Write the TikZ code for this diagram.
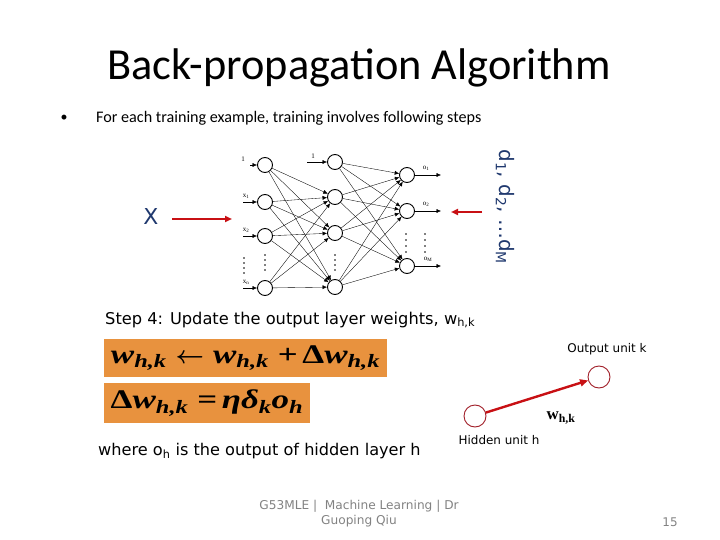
\documentclass[tikz,border=0pt]{standalone}
\usepackage{fontspec}
\setmainfont{Carlito}
\newfontfamily\verd{DejaVu Sans}
\newfontfamily\tnr{Liberation Serif}
\newfontfamily\tnrw[FakeStretch=1.3]{Liberation Serif}
\usetikzlibrary{arrows.meta}
\definecolor{navy}{RGB}{31,56,110}
\definecolor{redarr}{RGB}{200,16,20}
\definecolor{boxor}{RGB}{232,146,62}
\definecolor{unitred}{RGB}{160,30,40}
\definecolor{foot}{RGB}{130,130,130}
\begin{document}
\begin{tikzpicture}[x=1bp,y=-1bp,
  neuron/.style={circle, draw, line width=0.9bp, minimum size=15bp, inner sep=0pt},
  conn/.style={line width=0.35bp, -{Latex[length=4.5bp,width=4bp]}},
  tiny/.style={font=\tnr\fontsize{7}{8}\selectfont, inner sep=0pt},
  dotv/.style={fill, circle, inner sep=0pt, minimum size=1.6bp},
  bigred/.style={draw=redarr, line width=2bp, -{Triangle[length=7bp,width=6bp]}},
  formbox/.style={fill=boxor, inner sep=0pt, font=\tnrw\fontsize{27}{30}\selectfont\bfseries\itshape},
  unit/.style={circle, draw=unitred, line width=0.9bp, minimum size=22bp, inner sep=0pt},
  small/.style={font=\verd\fontsize{12}{14}\selectfont},
]
\path[use as bounding box] (0,0) rectangle (720,540);

% title
\node (title) at (359,68) {\fontsize{44.5}{52}\selectfont Back-propagation Algorithm};
\node (bul) at (64,118) {\fontsize{14}{16}\selectfont •};
\node[anchor=west, inner sep=0pt] (intro) at (96,118) {\fontsize{16.2}{19}\selectfont For each training example, training involves following steps};

% network
\node[neuron] (i1) at (265,165) {};
\node[neuron] (i2) at (265,202) {};
\node[neuron] (i3) at (265,236) {};
\node[neuron] (i4) at (265,288) {};
\node[neuron] (h1) at (335,162) {};
\node[neuron] (h2) at (335,197) {};
\node[neuron] (h3) at (335,233) {};
\node[neuron] (h4) at (335,287) {};
\node[neuron] (o1) at (407,175) {};
\node[neuron] (o2) at (407,211) {};
\node[neuron] (o3) at (407,266) {};

\foreach \i in {i1,i2,i3,i4}
  \foreach \h in {h2,h3,h4}
    \draw[conn] (\i) -- (\h);
\foreach \h in {h1,h2,h3,h4}
  \foreach \o in {o1,o2,o3}
    \draw[conn] (\h) -- (\o);

% inputs
\coordinate (a1) at (250,165);
\coordinate (a2) at (243,202);
\coordinate (a3) at (243,236);
\coordinate (a4) at (243,288);
\coordinate (b1) at (307,162);
\foreach \n in {1,2,3,4} \draw[conn] (a\n) -- (i\n);
\draw[conn] (b1) -- (h1);
\node[tiny] (l1) at (243,159) {1};
\node[tiny] (l2) at (246,196) {x\textsubscript{1}};
\node[tiny] (l3) at (246,230) {x\textsubscript{2}};
\node[tiny] (l4) at (246,282) {x\textsubscript{n}};
\node[tiny] (l5) at (313,156) {1};

% outputs
\coordinate (c1) at (441,175);
\coordinate (c2) at (441,211);
\coordinate (c3) at (441,266);
\foreach \n in {1,2,3} \draw[conn] (o\n) -- (c\n);
\node[tiny] (m1) at (426,168) {o\textsubscript{1}};
\node[tiny] (m2) at (426,204) {o\textsubscript{2}};
\node[tiny] (m3) at (428,259) {o\textsubscript{M}};

% dots
\foreach \y in {258,263,268,273} {
  \node[dotv] at (244,\y) {};
  \node[dotv] at (265,\y-3) {};
  \node[dotv] at (335,\y-3) {};
}
\foreach \y in {234,240,246,252} {
  \node[dotv] at (406,\y) {};
  \node[dotv] at (425,\y) {};
}

% X and d labels
\node[navy, font=\verd\fontsize{22}{26}\selectfont] (X) at (151,217) {X};
\coordinate (xa) at (172,219);
\coordinate (xb) at (232,219);
\draw[bigred] (xa) -- (xb);
\coordinate (da) at (482,212);
\coordinate (db) at (451,212);
\draw[bigred] (da) -- (db);
\node[navy, rotate=-90, font=\verd\fontsize{20}{24}\selectfont] (d) at (505,207) {d\textsubscript{1}, d\textsubscript{2}, …d\textsubscript{M}};

% step 4
\node[anchor=west, inner sep=0pt, font=\verd\fontsize{16.3}{19}\selectfont] (step) at (105,320) {Step 4: Update the output layer weights, w\textsubscript{h,k}};
\node[formbox, minimum width=283bp, minimum height=38bp] (box1) at (245.5,358)
  {w\textsubscript{h,k}\,\,{\boldmath$\leftarrow$}\,\,w\textsubscript{h,k}\,\,\textup{+}\,\textup{Δ}w\textsubscript{h,k}};
\node[formbox, minimum width=206bp, minimum height=40bp] (box2) at (207,403)
  {\textup{Δ}w\textsubscript{h,k}\,\,\textup{=}\,ηδ\textsubscript{k}o\textsubscript{h}};
\node[anchor=west, inner sep=0pt, font=\verd\fontsize{16.2}{19}\selectfont] (where) at (98,451) {where o\textsubscript{h} is the output of hidden layer h};

% units
\node[unit] (hu) at (475,416) {};
\node[unit] (ok) at (599,377) {};
\draw[draw=redarr, line width=2.4bp, -{Triangle[length=8bp,width=7bp]}] (hu) -- (ok);
\node[small] (okl) at (607,349) {Output unit k};
\node[small] (hul) at (499,440) {Hidden unit h};
\node[font=\tnr\fontsize{17}{19}\selectfont\bfseries] (wl) at (561,418) {w\textsubscript{h,k}};

% footer
\node[foot, align=center, font=\verd\fontsize{12.2}{15}\selectfont] (foot) at (359,514) {G53MLE |\ \ Machine Learning | Dr\\Guoping Qiu};
\node[foot, font=\verd\fontsize{12}{14}\selectfont] (pg) at (670,522) {15};
\end{tikzpicture}
\end{document}
